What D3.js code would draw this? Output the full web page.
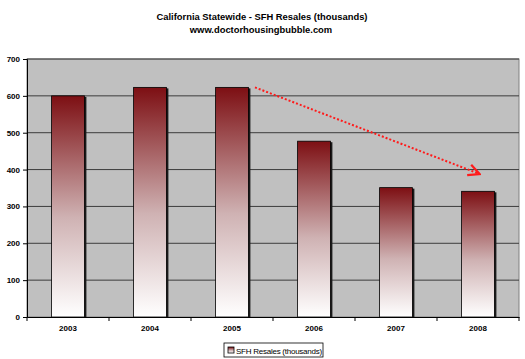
<!DOCTYPE html>
<html>
<head>
<meta charset="utf-8">
<script src="https://cdn.jsdelivr.net/npm/d3@7"></script>
<style>
  body { margin: 0; background: #fff; }
  text { font-family: "Liberation Sans", Arial, sans-serif; }
</style>
</head>
<body>
<div id="chart"></div>
<script>
const years = ["2003", "2004", "2005", "2006", "2007", "2008"];
const resales = [600, 623, 623, 477, 351, 341];
const yTicks = [0, 100, 200, 300, 400, 500, 600, 700];
const trendFrom = { year: "2005", pos: 0.78, value: 623 };
const trendTo = { year: "2008", pos: 0.52, value: 388 };

const width = 525, height = 359;
const margin = { top: 59, right: 6, bottom: 42, left: 27 };

const svg = d3.select("#chart").append("svg")
  .attr("width", width).attr("height", height);

const defs = svg.append("defs");
const grad = defs.append("linearGradient")
  .attr("id", "barGrad").attr("x1", 0).attr("y1", 0).attr("x2", 0).attr("y2", 1);
grad.append("stop").attr("offset", "0%").attr("stop-color", "#7d0f13");
grad.append("stop").attr("offset", "55%").attr("stop-color", "#cfb2b3");
grad.append("stop").attr("offset", "100%").attr("stop-color", "#ffffff");

defs.append("marker")
  .attr("id", "arrow").attr("viewBox", "0 0 10 10")
  .attr("refX", 9).attr("refY", 5)
  .attr("markerWidth", 7).attr("markerHeight", 7)
  .attr("orient", "auto")
  .append("path").attr("d", "M1,1 L9,5 L1,9")
  .attr("fill", "none").attr("stroke", "#ff1a1a").attr("stroke-width", 1.6);

const x = d3.scaleBand().domain(years)
  .range([margin.left, width - margin.right]).paddingInner(0).paddingOuter(0);
const y = d3.scaleLinear().domain([0, 700])
  .range([height - margin.bottom, margin.top]);

// titles
svg.append("text").attr("x", 262).attr("y", 20).attr("text-anchor", "middle")
  .attr("font-size", 9.4).attr("font-weight", "bold")
  .text("California Statewide - SFH Resales (thousands)");
svg.append("text").attr("x", 261).attr("y", 33).attr("text-anchor", "middle")
  .attr("font-size", 9.4).attr("font-weight", "bold")
  .text("www.doctorhousingbubble.com");

// plot background
svg.append("rect")
  .attr("x", margin.left).attr("y", margin.top)
  .attr("width", width - margin.right - margin.left)
  .attr("height", y(0) - y(700))
  .attr("fill", "#c0c0c0").attr("stroke", "#808080");

// gridlines
svg.append("g").selectAll("line").data(yTicks.slice(1)).join("line")
  .attr("x1", margin.left).attr("x2", width - margin.right)
  .attr("y1", d => y(d)).attr("y2", d => y(d))
  .attr("stroke", "#3c3c3c").attr("stroke-width", 1);

// axes
const yAxis = svg.append("g").attr("transform", `translate(${margin.left},0)`)
  .call(d3.axisLeft(y).tickValues(yTicks).tickSize(4).tickPadding(3));
yAxis.select(".domain").attr("stroke", "#000");
yAxis.selectAll("text").attr("font-size", 8).attr("font-weight", "bold")
  .attr("font-family", "Liberation Sans, Arial, sans-serif");

const xAxis = svg.append("g").attr("transform", `translate(0,${y(0)})`)
  .call(d3.axisBottom(x).tickSize(0).tickPadding(8));
xAxis.select(".domain").attr("stroke", "#000");
xAxis.selectAll("text").attr("font-size", 8).attr("font-weight", "bold")
  .attr("font-family", "Liberation Sans, Arial, sans-serif");
svg.append("g").selectAll("line").data(years).join("line")
  .attr("x1", d => x(d)).attr("x2", d => x(d))
  .attr("y1", y(0)).attr("y2", y(0) + 4).attr("stroke", "#000");
svg.append("line").attr("x1", width - margin.right).attr("x2", width - margin.right)
  .attr("y1", y(0)).attr("y2", y(0) + 4).attr("stroke", "#000");

// bars
const bw = x.bandwidth() * 0.4;
const bars = svg.append("g").selectAll("g").data(years).join("g");
bars.append("rect")
  .attr("x", (d, i) => x(d) + (x.bandwidth() - bw) / 2 + 2)
  .attr("y", (d, i) => y(resales[i]) + 1)
  .attr("width", bw).attr("height", (d, i) => y(0) - y(resales[i]) - 1)
  .attr("fill", "#1a1a1a");
bars.append("rect")
  .attr("x", (d, i) => x(d) + (x.bandwidth() - bw) / 2)
  .attr("y", (d, i) => y(resales[i]))
  .attr("width", bw).attr("height", (d, i) => y(0) - y(resales[i]))
  .attr("fill", "url(#barGrad)").attr("stroke", "#000").attr("stroke-width", 0.8);

// trend arrow
svg.append("line")
  .attr("x1", x(trendFrom.year) + x.bandwidth() * trendFrom.pos)
  .attr("y1", y(trendFrom.value))
  .attr("x2", x(trendTo.year) + x.bandwidth() * trendTo.pos)
  .attr("y2", y(trendTo.value))
  .attr("stroke", "#ff1a1a").attr("stroke-width", 2)
  .attr("stroke-dasharray", "2,2")
  .attr("marker-end", "url(#arrow)");

// legend
const lg = svg.append("g").attr("transform", "translate(224,343)");
lg.append("rect").attr("width", 99).attr("height", 14)
  .attr("fill", "#fff").attr("stroke", "#000").attr("stroke-width", 0.8);
lg.append("rect").attr("x", 4).attr("y", 4).attr("width", 6).attr("height", 6)
  .attr("fill", "url(#barGrad)").attr("stroke", "#000").attr("stroke-width", 0.8);
const clip = defs.append("clipPath").attr("id", "lgclip");
clip.append("rect").attr("width", 98).attr("height", 14);
lg.append("text").attr("x", 12).attr("y", 10.5).attr("font-size", 8)
  .attr("letter-spacing", -0.25)
  .attr("clip-path", "url(#lgclip)")
  .text("SFH Resales (thousands)");
</script>
</body>
</html>
